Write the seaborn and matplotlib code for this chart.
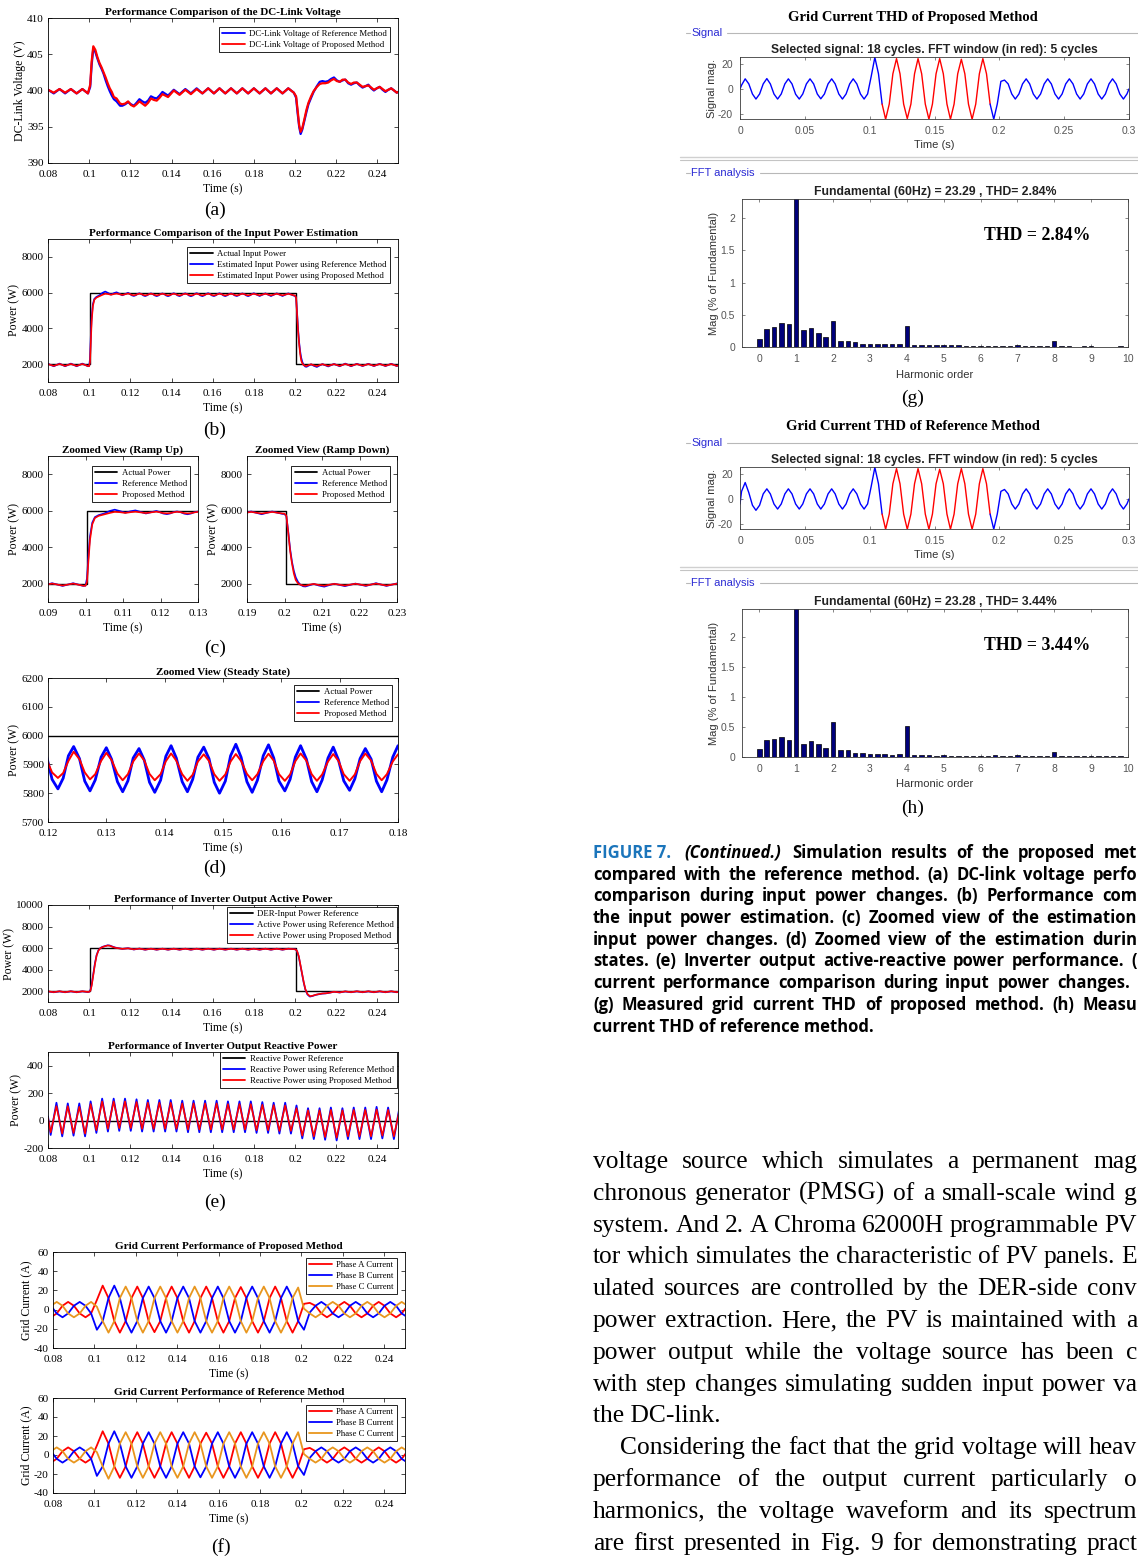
import numpy as np
import seaborn as sns
import matplotlib.pyplot as plt
from matplotlib.lines import Line2D

sns.set_theme(style="white")
SERIF = ['Liberation Serif', 'DejaVu Serif']
SANS = ['Liberation Sans', 'DejaVu Sans']
plt.rcParams['font.family'] = SERIF
plt.rcParams['text.color'] = 'black'
plt.rcParams['axes.labelcolor'] = 'black'

BLUE = '#0000ff'
RED = '#ff0000'
ORANGE = '#e8961e'
NAVY = '#00007a'

# ---------------- (a) DC-link voltage ----------------
t_dc = [0.0800, 0.0828, 0.0856, 0.0883, 0.0911, 0.0939, 0.0967, 0.0994,
        0.1005, 0.1012, 0.1020, 0.1030, 0.1040, 0.1050, 0.1060, 0.1070,
        0.1080, 0.1090, 0.1100, 0.1110, 0.1120, 0.1133, 0.1150, 0.1161,
        0.1175, 0.1189, 0.1203, 0.1217, 0.1230, 0.1244, 0.1258, 0.1272,
        0.1286, 0.1300, 0.1314, 0.1328, 0.1342, 0.1356, 0.1383, 0.1411,
        0.1439, 0.1467, 0.1494, 0.1522, 0.1550, 0.1578, 0.1606, 0.1633,
        0.1661, 0.1689, 0.1717, 0.1744, 0.1772, 0.1800, 0.1828, 0.1856,
        0.1883, 0.1911, 0.1939, 0.1967, 0.1994, 0.2005, 0.2012, 0.2020,
        0.2027, 0.2035, 0.2045, 0.2055, 0.2065, 0.2078, 0.2090, 0.2106,
        0.2120, 0.2133, 0.2147, 0.2161, 0.2175, 0.2189, 0.2203, 0.2217,
        0.2231, 0.2244, 0.2258, 0.2272, 0.2286, 0.2300, 0.2314, 0.2328,
        0.2342, 0.2356, 0.2370, 0.2383, 0.2397, 0.2411, 0.2425, 0.2439,
        0.2453, 0.2467, 0.2481, 0.2494, 0.2508]
dc_ref = [400.1, 399.6, 400.2, 399.6, 400.2, 399.6, 400.2, 399.6,
          400.5, 403.5, 405.8, 405.3, 404.4, 403.6, 403.0, 402.3,
          401.4, 400.6, 399.9, 399.3, 398.8, 398.5, 397.9, 397.9,
          398.1, 398.4, 398.1, 397.9, 398.3, 398.8, 398.5, 398.3,
          398.6, 399.2, 399.0, 398.9, 399.3, 399.8, 399.3, 400.1,
          399.5, 400.2, 399.6, 400.3, 399.6, 400.3, 399.6, 400.3,
          399.6, 400.3, 399.6, 400.3, 399.6, 400.3, 399.6, 400.3,
          399.6, 400.3, 399.6, 400.3, 399.7, 399.0, 397.0, 395.0,
          394.0, 394.6, 395.8, 397.0, 398.1, 399.0, 399.8, 400.6,
          401.2, 401.3, 401.2, 401.3, 401.6, 401.8, 401.4, 401.2,
          401.4, 401.5, 401.0, 400.8, 401.0, 401.1, 400.7, 400.4,
          400.6, 400.8, 400.3, 400.0, 400.3, 400.5, 400.1, 399.8,
          400.1, 400.3, 400.0, 399.7, 399.9]
dc_prop = [400.1, 399.7, 400.2, 399.7, 400.2, 399.6, 400.2, 399.6,
           400.8, 404.0, 406.1, 405.6, 404.6, 403.8, 403.2, 402.5,
           401.8, 401.0, 400.3, 399.8, 399.1, 398.9, 398.2, 398.1,
           398.2, 398.5, 398.0, 397.8, 398.1, 398.5, 398.2, 397.9,
           398.3, 398.9, 398.7, 398.6, 399.0, 399.5, 399.1, 400.0,
           399.4, 400.1, 399.5, 400.2, 399.6, 400.3, 399.6, 400.3,
           399.6, 400.3, 399.6, 400.3, 399.6, 400.3, 399.6, 400.3,
           399.6, 400.3, 399.6, 400.3, 399.7, 399.2, 397.4, 395.2,
           394.3, 394.8, 396.0, 397.3, 398.3, 399.2, 399.9, 400.5,
           400.9, 401.0, 401.0, 401.1, 401.4, 401.6, 401.3, 401.2,
           401.5, 401.5, 401.1, 400.9, 401.1, 401.1, 400.8, 400.5,
           400.6, 400.7, 400.4, 400.1, 400.3, 400.5, 400.2, 399.9,
           400.1, 400.3, 400.0, 399.7, 399.9]

# ---------------- (b)(c)(d) input power estimation ----------------
p_step_t = [0.08, 0.1003, 0.1003, 0.2003, 0.2003, 0.26]
p_step = [2000, 2000, 6000, 6000, 2000, 2000]

t_pin = [0.0800, 0.0828, 0.0856, 0.0883, 0.0911, 0.0939, 0.0967, 0.0994,
         0.1000, 0.1004, 0.1008, 0.1012, 0.1018, 0.1025, 0.1035, 0.1050,
         0.1065, 0.1078, 0.1092, 0.1106, 0.1120, 0.1133, 0.1161, 0.1189,
         0.1198, 0.1207, 0.1217, 0.1226, 0.1235, 0.1244, 0.1254, 0.1263, 0.1272, 0.1281, 0.1291, 0.1300,
         0.1309, 0.1319, 0.1328, 0.1337, 0.1346, 0.1356, 0.1365, 0.1374, 0.1383, 0.1393, 0.1402, 0.1411,
         0.1420, 0.1430, 0.1439, 0.1448, 0.1457, 0.1467, 0.1476, 0.1485, 0.1494, 0.1504, 0.1513, 0.1522,
         0.1531, 0.1541, 0.1550, 0.1559, 0.1569, 0.1578, 0.1587, 0.1596, 0.1606, 0.1615, 0.1624, 0.1633,
         0.1643, 0.1652, 0.1661, 0.1670, 0.1680, 0.1689, 0.1698, 0.1707, 0.1717, 0.1726, 0.1735, 0.1744,
         0.1754, 0.1763, 0.1772, 0.1781, 0.1791, 0.1800,
         0.1828, 0.1856, 0.1883, 0.1911, 0.1939, 0.1967, 0.1994, 0.2000,
         0.2005, 0.2010, 0.2015, 0.2020, 0.2025, 0.2030, 0.2036, 0.2042,
         0.2050, 0.2056, 0.2067, 0.2078, 0.2092, 0.2106, 0.2120, 0.2133,
         0.2161, 0.2189, 0.2217, 0.2244, 0.2272, 0.2300, 0.2328, 0.2356,
         0.2383, 0.2411, 0.2439, 0.2467, 0.2494, 0.2522]
pin_ref = [2020, 1880, 2030, 1880, 2030, 1880, 2030, 1880,
           1900, 2300, 3600, 4600, 5350, 5650, 5760, 5850,
           5990, 6060, 5980, 5890, 5970, 6020, 5850, 5990,
           5925, 5848, 5815, 5852, 5930, 5962, 5920, 5842, 5808, 5846, 5925, 5958,
           5918, 5840, 5805, 5843, 5922, 5955, 5915, 5838, 5803, 5845, 5928, 5965,
           5922, 5840, 5805, 5848, 5925, 5960, 5920, 5838, 5800, 5842, 5930, 5970,
           5925, 5840, 5803, 5845, 5930, 5968, 5922, 5842, 5808, 5848, 5925, 5965,
           5918, 5840, 5805, 5846, 5922, 5960, 5915, 5843, 5810, 5850, 5920, 5955,
           5918, 5842, 5805, 5846, 5925, 5965,
           5810, 5960, 5808, 5962, 5810, 5960, 5830, 5820,
           5700, 4850, 3900, 3200, 2700, 2350, 2100, 1950,
           1860, 1850, 1920, 1990, 1900, 1840, 1930, 2000,
           1870, 2010, 1880, 2030, 1880, 2020, 1890, 2020,
           1890, 2020, 1890, 2020, 1890, 2010]
pin_prop = [2000, 1900, 2010, 1900, 2010, 1900, 2010, 1890,
            1890, 2100, 3300, 4400, 5250, 5600, 5720, 5800,
            5880, 5940, 5920, 5880, 5920, 5950, 5870, 5950,
            5915, 5872, 5853, 5870, 5912, 5944, 5918, 5872, 5848, 5866, 5912, 5940,
            5915, 5868, 5845, 5866, 5910, 5938, 5914, 5867, 5845, 5866, 5911, 5938,
            5913, 5866, 5843, 5864, 5910, 5935, 5912, 5866, 5843, 5865, 5910, 5936,
            5912, 5867, 5845, 5866, 5911, 5937, 5913, 5866, 5843, 5865, 5911, 5938,
            5913, 5866, 5843, 5865, 5910, 5936, 5912, 5866, 5843, 5865, 5911, 5938,
            5913, 5867, 5845, 5866, 5910, 5935,
            5845, 5937, 5845, 5937, 5845, 5935, 5850, 5840,
            5720, 4800, 3800, 3100, 2550, 2200, 2020, 1950,
            1900, 1890, 1950, 1990, 1930, 1890, 1950, 1995,
            1900, 2000, 1900, 2010, 1900, 2005, 1905, 2005,
            1905, 2005, 1905, 2005, 1900, 2000]

# ---------------- (e) inverter output active / reactive power ----------------
t_act = [0.0800, 0.0828, 0.0856, 0.0883, 0.0911, 0.0939, 0.0967, 0.0994,
         0.1000, 0.1006, 0.1012, 0.1020, 0.1028, 0.1036, 0.1045, 0.1055,
         0.1065, 0.1078, 0.1090, 0.1100, 0.1112, 0.1125, 0.1140, 0.1161,
         0.1189, 0.1217, 0.1244, 0.1272, 0.1300, 0.1328, 0.1356, 0.1383,
         0.1411, 0.1439, 0.1467, 0.1494, 0.1522, 0.1550, 0.1578, 0.1606,
         0.1633, 0.1661, 0.1689, 0.1717, 0.1744, 0.1772, 0.1800, 0.1828,
         0.1856, 0.1883, 0.1911, 0.1939, 0.1967, 0.1994, 0.2003, 0.2010,
         0.2018, 0.2026, 0.2034, 0.2042, 0.2050, 0.2060, 0.2072, 0.2085,
         0.2100, 0.2115, 0.2133, 0.2150, 0.2170, 0.2189, 0.2217, 0.2244,
         0.2272, 0.2300, 0.2328, 0.2356, 0.2383, 0.2411, 0.2439, 0.2467,
         0.2494, 0.2522]
act_ref = [1980, 1900, 1990, 1900, 1990, 1900, 1990, 1920,
           1950, 2100, 2600, 3600, 4600, 5350, 5800, 6020,
           6120, 6200, 6260, 6240, 6150, 6060, 6000, 5930,
           5990, 5870, 5960, 5850, 5950, 5850, 5950, 5850,
           5950, 5850, 5950, 5850, 5950, 5850, 5950, 5850,
           5950, 5850, 5950, 5850, 5950, 5850, 5950, 5850,
           5950, 5850, 5950, 5850, 5950, 5900, 5880, 5700,
           5200, 4400, 3600, 2800, 2150, 1700, 1500, 1560,
           1660, 1720, 1780, 1800, 1870, 1950, 1880, 1980,
           1900, 1990, 1900, 1990, 1900, 1990, 1900, 1990,
           1900, 1990]
act_prop = [1990, 1910, 1995, 1910, 1995, 1910, 1995, 1930,
            1950, 2050, 2500, 3500, 4500, 5300, 5780, 6000,
            6100, 6180, 6240, 6220, 6130, 6040, 5990, 5930,
            5980, 5880, 5950, 5860, 5940, 5860, 5940, 5860,
            5940, 5860, 5940, 5860, 5940, 5860, 5940, 5860,
            5940, 5860, 5940, 5860, 5940, 5860, 5940, 5860,
            5940, 5860, 5940, 5860, 5940, 5900, 5880, 5720,
            5250, 4450, 3650, 2850, 2200, 1750, 1540, 1580,
            1670, 1730, 1790, 1810, 1870, 1950, 1890, 1985,
            1910, 1995, 1910, 1995, 1910, 1995, 1910, 1995,
            1910, 1995]

q_zero_t = [0.08, 0.26]
q_zero = [0, 0]
t_q = [0.0800, 0.0813, 0.0841, 0.0869, 0.0896, 0.0924, 0.0952, 0.0980,
       0.1007, 0.1035, 0.1063, 0.1091, 0.1119, 0.1146, 0.1174, 0.1202,
       0.1230, 0.1257, 0.1285, 0.1313, 0.1341, 0.1369, 0.1396, 0.1424,
       0.1452, 0.1480, 0.1507, 0.1535, 0.1563, 0.1591, 0.1619, 0.1646,
       0.1674, 0.1702, 0.1730, 0.1757, 0.1785, 0.1813, 0.1841, 0.1869,
       0.1896, 0.1924, 0.1952, 0.1980, 0.2007, 0.2035, 0.2063, 0.2091,
       0.2119, 0.2146, 0.2174, 0.2202, 0.2230, 0.2257, 0.2285, 0.2313,
       0.2341, 0.2369, 0.2396, 0.2424, 0.2452, 0.2480, 0.2507]
q_ref = [30, -105, 130, -115, 125, -110, 125, -115,
         140, -90, 160, -80, 160, -75, 160, -75,
         155, -80, 150, -80, 150, -80, 150, -80,
         145, -85, 145, -85, 145, -85, 145, -85,
         140, -85, 140, -85, 140, -90, 135, -90,
         130, -95, 130, -95, 110, -130, 90, -135,
         90, -140, 95, -145, 90, -135, 95, -135,
         95, -135, 100, -130, 95, -135, 95]
q_prop = [20, -85, 105, -95, 105, -90, 100, -95,
          120, -70, 140, -60, 140, -55, 140, -55,
          135, -60, 130, -60, 130, -60, 130, -60,
          125, -65, 125, -65, 125, -65, 125, -65,
          120, -65, 120, -65, 120, -70, 115, -70,
          112, -75, 110, -75, 90, -110, 75, -115,
          75, -120, 78, -125, 75, -115, 78, -115,
          78, -115, 80, -110, 78, -115, 75]

# ---------------- (f)(g)(h) grid currents ----------------
t_sig = [0.0000, 0.0012,
         0.0040, 0.0068, 0.0096, 0.0123, 0.0151, 0.0179,
         0.0207, 0.0234, 0.0262, 0.0290, 0.0318, 0.0346,
         0.0373, 0.0401, 0.0429, 0.0457, 0.0484, 0.0512,
         0.0540, 0.0568, 0.0596, 0.0623, 0.0651, 0.0679,
         0.0707, 0.0734, 0.0762, 0.0790, 0.0818, 0.0846,
         0.0873, 0.0901, 0.0929, 0.0957, 0.0984, 0.1012,
         0.1040, 0.1068, 0.1096, 0.1123, 0.1151, 0.1179,
         0.1207, 0.1234, 0.1262, 0.1290, 0.1318, 0.1346,
         0.1373, 0.1401, 0.1429, 0.1457, 0.1484, 0.1512,
         0.1540, 0.1568, 0.1596, 0.1623, 0.1651, 0.1679,
         0.1707, 0.1734, 0.1762, 0.1790, 0.1818, 0.1846,
         0.1873, 0.1901, 0.1929, 0.1957, 0.1984, 0.2012,
         0.2040, 0.2068, 0.2096, 0.2123, 0.2151, 0.2179,
         0.2207, 0.2234, 0.2262, 0.2290, 0.2318, 0.2346,
         0.2373, 0.2401, 0.2429, 0.2457, 0.2484, 0.2512,
         0.2540, 0.2568, 0.2596, 0.2623, 0.2651, 0.2679,
         0.2707, 0.2734, 0.2762, 0.2790, 0.2818, 0.2846,
         0.2873, 0.2901, 0.2929, 0.2957, 0.2984, 0.3000]
# phase A current of the proposed method (also the FFT signal in (g))
ia_prop = [0, 3,
           8, 4, -4, -8, -4, 4,
           8.2, 4, -4, -8, -4, 4,
           8, 4, -4.2, -8, -4, 4,
           8, 4, -4, -7.8, -4, 4,
           8, 4, -4, -8, -4, 4,
           8, 4, -4, -8, -4, 10,
           25, 12, -12, -24, -12, 12,
           24, 12, -12, -23.5, -12, 12,
           24, 12, -12, -24, -12, 12,
           24, 12, -12, -24, -12, 12,
           23.5, 12, -12, -24, -12, 12,
           24, 12, -12, -24, -12, 6,
           7, 4, -4, -8, -4, 4,
           8, 4, -4, -8, -4, 4,
           8, 4, -4, -8, -4, 4,
           8, 4, -4, -8, -4, 4,
           8, 4, -4, -8, -4, 4,
           8, 4, -4, -8, -4, 0]
# phase A current of the reference method (also the FFT signal in (h))
ia_ref = [-4, 6,
          13, 5, -5, -9, -5, 4,
          8, 4, -4, -8, -4, 4,
          8, 4, -4, -8, -4, 4,
          8, 4, -4, -8, -4, 4,
          8, 4, -4, -8, -4, 4,
          8, 4, -4, -8, -4, 10,
          25, 12, -12, -24, -12, 12,
          24, 12, -12, -24, -12, 12,
          24, 12, -12, -24, -12, 12,
          23.5, 12, -12, -24, -12, 12,
          24, 12, -12, -24, -12, 12,
          24, 12, -12, -24, -12, 6,
          7.5, 4, -4, -8, -4, 4,
          8, 4, -4, -8, -4, 4,
          8, 4, -4, -8, -4, 4,
          8, 4, -4, -8, -4, 4,
          8, 4, -4, -8, -4, 4,
          8, 4, -4, -8, -4, 0]
t_bc = t_sig[29:92]
ib_prop = [4, -4, -8, -4, 4, 8,
           4, -4, -21, -12, 12, 25,
           12, -12, -24, -12, 12, 24,
           12, -12, -24, -12, 12, 24,
           12, -12, -24, -12, 12, 24,
           12, -12, -24, -12, 12, 24,
           12, -12, -24, -12, 12, 24,
           12, -12, -21, -3, 4, 8,
           4, -4, -8, -4, 4, 8,
           4, -4, -8, -4, 4, 8,
           4, -4, -8]
ic_prop = [4, 8, 4, -4, -8, -4,
           4, 8, 3, -12, -24, -12,
           12, 24, 12, -12, -24, -12,
           12, 24, 12, -12, -24, -12,
           12, 24, 12, -12, -24, -12,
           12, 24, 12, -12, -24, -12,
           12, 24, 12, -12, -24, -12,
           12, 23, 1, -4, -8, -4,
           4, 8, 4, -4, -8, -4,
           4, 8, 4, -4, -8, -4,
           4, 8, 4]
ib_ref = [4, -4, -8, -4, 4, 8,
          4, -4, -22, -12, 12, 25,
          12, -12, -24, -12, 12, 24,
          12, -12, -24, -12, 12, 24,
          12, -12, -23.5, -12, 12, 24,
          12, -12, -24, -12, 12, 24,
          12, -12, -24, -12, 12, 24,
          12, -12, -21, -3, 4, 8,
          4, -4, -8, -4, 4, 8,
          4, -4, -8, -4, 4, 8,
          4, -4, -8]
ic_ref = [4, 8, 4, -4, -8, -4,
          4, 8, 3, -12, -25, -12,
          12, 24, 12, -12, -24, -12,
          12, 24, 12, -12, -24, -12,
          12, 24, 12, -12, -24, -12,
          12, 24, 12, -12, -24, -12,
          12, 24, 12, -12, -24, -12,
          12, 24, 1, -4, -8, -4,
          4, 8, 4, -4, -8, -4,
          4, 8, 4, -4, -8, -4,
          4, 8, 4]
FFT_WIN = (0.1096, 0.1929)

harm_order = [0, 0.2, 0.4, 0.6, 0.8, 1, 1.2, 1.4, 1.6, 1.8,
              2, 2.2, 2.4, 2.6, 2.8, 3, 3.2, 3.4, 3.6, 3.8,
              4, 4.2, 4.4, 4.6, 4.8, 5, 5.2, 5.4, 5.6, 5.8,
              6, 6.2, 6.4, 6.6, 6.8, 7, 7.2, 7.4, 7.6, 7.8,
              8, 8.2, 8.4, 8.6, 8.8, 9, 9.2, 9.4, 9.6, 9.8]
mag_prop = [0.12, 0.28, 0.31, 0.38, 0.36, 100, 0.26, 0.30, 0.21, 0.16,
            0.41, 0.10, 0.09, 0.07, 0.05, 0.05, 0.05, 0.04, 0.05, 0.05,
            0.32, 0.035, 0.035, 0.025, 0.03, 0.025, 0.03, 0.03, 0.02, 0.02,
            0.02, 0.02, 0.02, 0.02, 0.02, 0.025, 0.02, 0.02, 0.02, 0.02,
            0.09, 0.02, 0.015, 0.005, 0.015, 0.015, 0.005, 0.005, 0.005, 0.02]
mag_ref = [0.13, 0.28, 0.30, 0.34, 0.28, 100, 0.22, 0.26, 0.21, 0.15,
           0.59, 0.11, 0.11, 0.07, 0.07, 0.055, 0.055, 0.055, 0.04, 0.055,
           0.51, 0.04, 0.04, 0.04, 0.02, 0.03, 0.02, 0.02, 0.02, 0.02,
           0.02, 0.02, 0.03, 0.02, 0.02, 0.03, 0.02, 0.02, 0.02, 0.02,
           0.09, 0.02, 0.02, 0.02, 0.02, 0.02, 0.02, 0.02, 0.02, 0.02]

# ---------------- text that sits beside the figure ----------------
cap_first = ['FIGURE 7.', '(Continued.)', 'Simulation results of the proposed met']
cap_lines = ['compared with the reference method. (a) DC-link voltage perfo',
             'comparison during input power changes. (b) Performance com',
             'the input power estimation. (c) Zoomed view of the estimation',
             'input power changes. (d) Zoomed view of the estimation durin',
             'states. (e) Inverter output active-reactive power performance. (',
             'current performance comparison during input power changes.',
             '(g) Measured grid current THD of proposed method. (h) Measu',
             'current THD of reference method.']
body = ['voltage source which simulates a permanent mag',
        'chronous generator (PMSG) of a small-scale wind g',
        'system. And 2. A Chroma 62000H programmable PV',
        'tor which simulates the characteristic of PV panels. E',
        'ulated sources are controlled by the DER-side conv',
        'power extraction. Here, the PV is maintained with a',
        'power output while the voltage source has been c',
        'with step changes simulating sudden input power va',
        'the DC-link.',
        'Considering the fact that the grid voltage will heav',
        'performance of the output current particularly o',
        'harmonics, the voltage waveform and its spectrum',
        'are first presented in Fig. 9 for demonstrating pract']

# ---------------- figure ----------------
W, H = 1138, 1558
fig = plt.figure(figsize=(W / 100, H / 100), dpi=100)
renderer = fig.canvas.get_renderer()


def add_ax(x0, y0, x1, y1):
    return fig.add_axes([x0 / W, 1 - y1 / H, (x1 - x0) / W, (y1 - y0) / H])


def line(ax, x, y, color, lw):
    sns.lineplot(x=x, y=y, ax=ax, color=color, linewidth=lw,
                 estimator=None, sort=False, legend=False)


def legend(ax, entries, anchor, fs=6.3):
    handles = [Line2D([], [], color=c, lw=1.3) for c, _ in entries]
    lg = ax.legend(handles, [lab for _, lab in entries], loc='upper right',
                   bbox_to_anchor=anchor, fontsize=fs, frameon=True,
                   fancybox=False, edgecolor='black', framealpha=1,
                   borderpad=0.35, labelspacing=0.32, handlelength=2.6,
                   handletextpad=0.5, borderaxespad=0)
    lg.get_frame().set_linewidth(0.6)


def fmt(v):
    return ('%.2f' % v).rstrip('0').rstrip('.')


def matlab_axes(ax, xlim, xticks, ylim, yticks, ylabel, title):
    ax.set_xlim(xlim)
    ax.set_ylim(ylim)
    ax.set_xticks(xticks)
    ax.set_xticklabels([fmt(v) for v in xticks])
    ax.set_yticks(yticks)
    ax.set_yticklabels([str(v) for v in yticks])
    ax.tick_params(direction='in', length=3, width=0.5, top=True, right=True,
                   bottom=True, left=True, labelsize=8, colors='black')
    ax.tick_params(axis='x', pad=5)
    ax.tick_params(axis='y', pad=3)
    for s in ax.spines.values():
        s.set_color('black')
        s.set_linewidth(0.6)
    ax.set_xlabel('Time (s)', fontsize=8.5, labelpad=3)
    ax.set_ylabel(ylabel, fontsize=8.5, labelpad=1)
    ax.set_title(title, fontsize=8, fontweight='bold', pad=2)


def sub_label(x, y, s):
    fig.text(x / W, 1 - y / H, s, ha='center', va='center', fontsize=14)


xt_main = [0.08, 0.1, 0.12, 0.14, 0.16, 0.18, 0.2, 0.22, 0.24]
xl_main = (0.08, 0.25)

# (a)
ax = add_ax(48, 18, 398, 163)
line(ax, t_dc, dc_ref, BLUE, 1.6)
line(ax, t_dc, dc_prop, RED, 1.6)
matlab_axes(ax, xl_main, xt_main, (390, 410), [390, 395, 400, 405, 410],
            'DC-Link Voltage (V)', 'Performance Comparison of the DC-Link Voltage')
legend(ax, [(BLUE, 'DC-Link Voltage of Reference Method'),
            (RED, 'DC-Link Voltage of Proposed Method')], (0.977, 0.938))
sub_label(215, 210, '(a)')

# (b)
ax = add_ax(48, 239, 398, 382)
line(ax, p_step_t, p_step, 'black', 1.0)
line(ax, t_pin, pin_ref, BLUE, 1.2)
line(ax, t_pin, pin_prop, RED, 1.2)
matlab_axes(ax, xl_main, xt_main, (1000, 9000), [2000, 4000, 6000, 8000],
            'Power (W)', 'Performance Comparison of the Input Power Estimation')
legend(ax, [('black', 'Actual Input Power'),
            (BLUE, 'Estimated Input Power using Reference Method'),
            (RED, 'Estimated Input Power using Proposed Method')], (0.977, 0.944))
sub_label(215, 430, '(b)')

# (c)
pw_entries = [('black', 'Actual Power'), (BLUE, 'Reference Method'), (RED, 'Proposed Method')]
ax = add_ax(48, 456, 198, 602)
line(ax, p_step_t, p_step, 'black', 1.0)
line(ax, t_pin, pin_ref, BLUE, 1.2)
line(ax, t_pin, pin_prop, RED, 1.2)
matlab_axes(ax, (0.09, 0.13), [0.09, 0.1, 0.11, 0.12, 0.13], (1000, 9000),
            [2000, 4000, 6000, 8000], 'Power (W)', 'Zoomed View (Ramp Up)')
legend(ax, pw_entries, (0.947, 0.932))
ax = add_ax(247, 456, 397, 602)
line(ax, p_step_t, p_step, 'black', 1.0)
line(ax, t_pin, pin_ref, BLUE, 1.2)
line(ax, t_pin, pin_prop, RED, 1.2)
matlab_axes(ax, (0.19, 0.23), [0.19, 0.2, 0.21, 0.22, 0.23], (1000, 9000),
            [2000, 4000, 6000, 8000], 'Power (W)', 'Zoomed View (Ramp Down)')
legend(ax, pw_entries, (0.953, 0.932))
sub_label(215, 648, '(c)')

# (d)
ax = add_ax(48, 678, 398, 822)
line(ax, p_step_t, p_step, 'black', 1.0)
line(ax, t_pin, pin_ref, BLUE, 2.0)
line(ax, t_pin, pin_prop, RED, 1.4)
matlab_axes(ax, (0.12, 0.18), [0.12, 0.13, 0.14, 0.15, 0.16, 0.17, 0.18],
            (5700, 6200), [5700, 5800, 5900, 6000, 6100, 6200],
            'Power (W)', 'Zoomed View (Steady State)')
legend(ax, pw_entries, (0.983, 0.951))
sub_label(215, 868, '(d)')

# (e) active
ax = add_ax(48, 905, 398, 1002)
line(ax, p_step_t, p_step, 'black', 1.0)
line(ax, t_act, act_ref, BLUE, 1.2)
line(ax, t_act, act_prop, RED, 1.2)
matlab_axes(ax, xl_main, xt_main, (1000, 10000), [2000, 4000, 6000, 8000, 10000],
            'Power (W)', 'Performance of Inverter Output Active Power')
legend(ax, [('black', 'DER-Input Power Reference'),
            (BLUE, 'Active Power using Reference Method'),
            (RED, 'Active Power using Proposed Method')], (0.997, 0.979))
# (e) reactive
ax = add_ax(48, 1052, 398, 1148)
line(ax, q_zero_t, q_zero, 'black', 1.0)
line(ax, t_q, q_ref, BLUE, 1.3)
line(ax, t_q, q_prop, RED, 1.2)
matlab_axes(ax, xl_main, xt_main, (-200, 500), [-200, 0, 200, 400],
            'Power (W)', 'Performance of Inverter Output Reactive Power')
legend(ax, [('black', 'Reactive Power Reference'),
            (BLUE, 'Reactive Power using Reference Method'),
            (RED, 'Reactive Power using Proposed Method')], (0.997, 1.0))
sub_label(215, 1202, '(e)')

# (f)
ph_entries = [(RED, 'Phase A Current'), (BLUE, 'Phase B Current'), (ORANGE, 'Phase C Current')]
for (y0, y1), ia, ib, ic, ttl, anc in [((1252, 1348), ia_prop, ib_prop, ic_prop,
                                        'Grid Current Performance of Proposed Method', (0.977, 0.9375)),
                                       ((1398, 1493), ia_ref, ib_ref, ic_ref,
                                        'Grid Current Performance of Reference Method', (0.977, 0.926))]:
    ax = add_ax(53, y0, 405, y1)
    line(ax, t_sig, ia, RED, 1.3)
    line(ax, t_bc, ib, BLUE, 1.3)
    line(ax, t_bc, ic, ORANGE, 1.3)
    matlab_axes(ax, xl_main, xt_main, (-40, 60), [-40, -20, 0, 20, 40, 60],
                'Grid Current (A)', ttl)
    legend(ax, ph_entries, anc)
sub_label(221, 1547, '(f)')

# ---------------- (g)(h) FFT analysis panels ----------------
GRAY = '#555555'


def gui_axes(ax):
    ax.tick_params(direction='in', length=2.5, width=0.5, top=True, right=True,
                   bottom=True, left=True, labelsize=7.5, labelcolor=GRAY,
                   color=GRAY, pad=5, labelfontfamily=SANS)
    for s in ax.spines.values():
        s.set_color('#3a3a3a')
        s.set_linewidth(0.6)


def hline_px(x0, x1, y, color='#b8b8b8', lw=0.8):
    fig.add_artist(Line2D([x0 / W, x1 / W], [1 - y / H, 1 - y / H],
                          transform=fig.transFigure, color=color, lw=lw))


def group_label(x, y, s, x_line):
    fig.text(x / W, 1 - y / H, s, color='#2b2bd4', family=SANS, fontsize=8,
             ha='left', va='center')
    hline_px(686, 690, y)
    hline_px(x_line, 1138, y)


t_arr = np.array(t_sig)
pre = t_arr <= FFT_WIN[0]
win = (t_arr >= FFT_WIN[0]) & (t_arr <= FFT_WIN[1])
post = t_arr >= FFT_WIN[1]

panels = [(0, ia_prop, mag_prop, 'Grid Current THD of Proposed Method',
           '23.29', '2.84%', 2.30, '(g)'),
          (410, ia_ref, mag_ref, 'Grid Current THD of Reference Method',
           '23.28', '3.44%', 2.47, '(h)')]
for dy, sig, mag, ttl, fund, thd, ytop, lab in panels:
    fig.text(913 / W, 1 - (17 + dy) / H, ttl, ha='center', va='center',
             fontsize=10.5, fontweight='bold')
    group_label(691, 33 + dy, 'Signal', 727)
    # signal axes
    ax = add_ax(740, 57 + dy, 1129, 119 + dy)
    s = np.array(sig, dtype=float)
    line(ax, t_arr[pre], s[pre], BLUE, 1.0)
    line(ax, t_arr[win], s[win], RED, 1.0)
    line(ax, t_arr[post], s[post], BLUE, 1.0)
    ax.set_xlim(0, 0.3)
    ax.set_ylim(-23.8, 25.3)
    ax.set_xticks([0, 0.05, 0.1, 0.15, 0.2, 0.25, 0.3])
    ax.set_xticklabels(['0', '0.05', '0.1', '0.15', '0.2', '0.25', '0.3'])
    ax.set_yticks([-20, 0, 20])
    ax.set_yticklabels(['-20', '0', '20'])
    gui_axes(ax)
    ax.set_xlabel('Time (s)', fontsize=8, family=SANS, color='#333333', labelpad=3)
    ax.set_ylabel('Signal mag.', fontsize=8, family=SANS, color='#333333', labelpad=1)
    ax.set_title('Selected signal: 18 cycles. FFT window (in red): 5 cycles',
                 fontsize=8.7, fontweight='bold', family=SANS, color='#222222', pad=3)
    # separators
    hline_px(680, 1138, 157 + dy, color='#d0d0d0', lw=1.0)
    hline_px(680, 1138, 159.5 + dy, color='#c4c4c4', lw=0.8)
    group_label(691, 173 + dy, 'FFT analysis', 760)
    # FFT bars
    ax = add_ax(742, 199 + dy, 1128, 347 + dy)
    sns.barplot(x=harm_order, y=mag, native_scale=True, width=0.6, color=NAVY,
                saturation=1, edgecolor='black', linewidth=0.5, errorbar=None, ax=ax)
    ax.set_xlim(-0.47, 10)
    ax.set_ylim(0, ytop)
    ax.set_xticks(range(11))
    ax.set_xticklabels([str(i) for i in range(11)])
    ax.set_yticks([0, 0.5, 1, 1.5, 2])
    ax.set_yticklabels(['0', '0.5', '1', '1.5', '2'])
    gui_axes(ax)
    ax.set_xlabel('Harmonic order', fontsize=8, family=SANS, color='#333333', labelpad=4)
    ax.set_ylabel('Mag (% of Fundamental)', fontsize=8, family=SANS, color='#333333', labelpad=1)
    ax.set_title('Fundamental (60Hz) = %s , THD= %s' % (fund, thd), fontsize=8.8,
                 fontweight='bold', family=SANS, color='#222222', pad=3)
    ax.text(0.765, 0.75, 'THD = ' + thd, transform=ax.transAxes, ha='center',
            va='center', fontsize=12.8, fontweight='bold')
    sub_label(913, 398 + dy, lab)


# ---------------- caption and body text ----------------
def justify(text, x0, x1, y, **kw):
    """Place the words of one line so that it runs from x0 to x1 (pixels)."""
    words = text.split()
    arts = [fig.text(0, 1 - y / H, w, va='center', **kw) for w in words]
    widths = [a.get_window_extent(renderer).width for a in arts]
    gap = (x1 - x0 - sum(widths)) / max(len(words) - 1, 1)
    x = x0
    for a, w in zip(arts, widths):
        a.set_x(x / W)
        x += w + gap


CAP = dict(family=['Open Sans', 'DejaVu Sans'], fontweight='bold', fontsize=12)
y0 = 853
fig.text(593 / W, 1 - y0 / H, cap_first[0], color='#1b75bb', va='center', **CAP)
fig.text(684 / W, 1 - y0 / H, cap_first[1], style='italic', va='center', **CAP)
justify(cap_first[2], 792, 1137, y0, **CAP)
for i, s in enumerate(cap_lines):
    yy = y0 + 21.7 * (i + 1)
    if i == len(cap_lines) - 1:
        fig.text(593 / W, 1 - yy / H, s, va='center', **CAP)
    elif i == 5:
        justify(s, 593, 1130, yy, **CAP)
    else:
        justify(s, 593, 1137, yy, **CAP)

BODY = dict(fontsize=18.4)
for i, s in enumerate(body):
    yy = 1162 + 31.8 * i
    if i == 8:
        fig.text(593 / W, 1 - yy / H, s, va='center', **BODY)
    else:
        justify(s, 620 if i == 9 else 593, 1137, yy, **BODY)

fig.savefig('out.png', dpi=100)
